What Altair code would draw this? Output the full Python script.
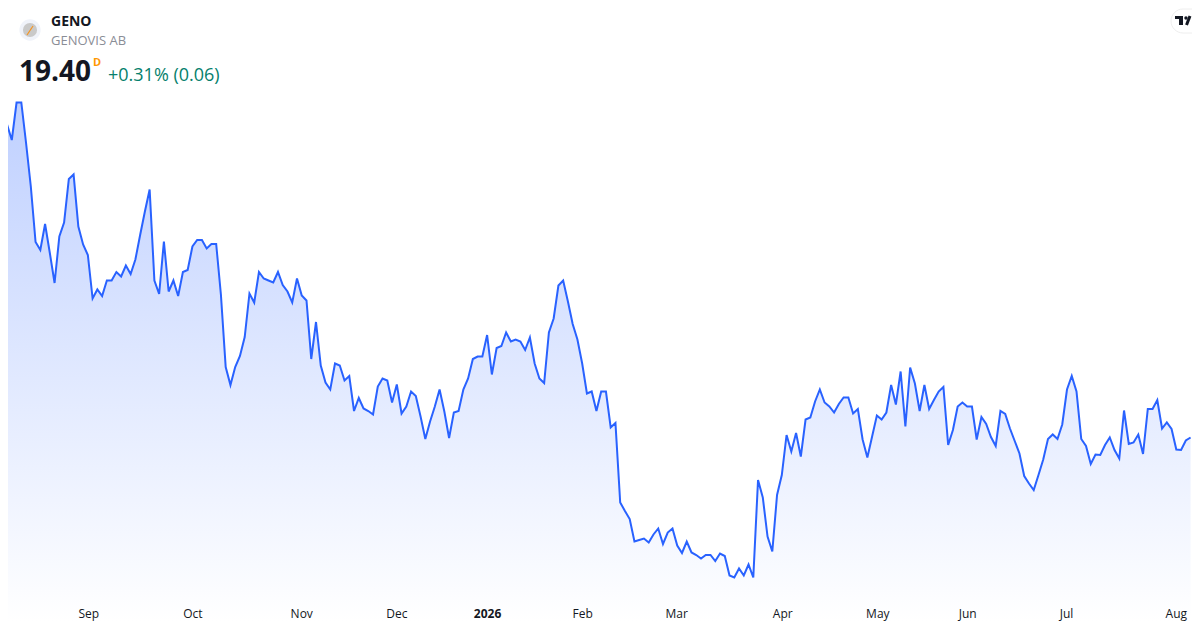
import altair as alt
import pandas as pd

prices = [
25.15,25.66,25.35,26.10,26.10,25.29,24.42,23.31,23.15,23.67,23.09,22.49,23.42,23.70,24.57,24.66,23.62,23.26,23.05,22.18,
22.36,22.23,22.54,22.54,22.71,22.62,22.84,22.67,22.96,23.45,23.92,24.36,22.54,22.27,23.32,22.32,22.54,22.23,22.71,22.75,
23.22,23.35,23.35,23.18,23.27,23.27,22.25,20.81,20.45,20.81,21.03,21.41,22.28,22.10,22.71,22.58,22.54,22.50,22.71,22.45,
22.32,22.10,22.58,22.24,22.14,20.97,21.71,20.84,20.50,20.36,20.88,20.84,20.54,20.63,19.93,20.19,19.98,19.93,19.86,20.42,
20.58,20.54,20.10,20.46,19.88,20.02,20.32,20.23,19.82,19.37,19.72,20.02,20.36,19.92,19.39,19.90,19.93,20.36,20.58,20.97,
21.02,21.02,21.45,20.66,21.19,21.23,21.50,21.32,21.36,21.32,21.15,21.40,20.88,20.58,20.49,21.50,21.78,22.44,22.54,22.12,
21.67,21.36,20.88,20.28,20.32,19.93,20.32,20.32,19.60,19.69,18.10,17.93,17.77,17.32,17.35,17.38,17.30,17.46,17.58,17.27,
17.50,17.58,17.24,17.09,17.32,17.10,17.05,16.98,17.05,17.05,16.93,17.08,17.03,16.64,16.60,16.78,16.64,16.86,16.60,18.55,
18.20,17.42,17.12,18.25,18.65,19.45,19.12,19.49,19.02,19.76,19.80,20.12,20.36,20.10,20.02,19.90,20.07,20.20,20.20,19.88,
19.97,19.36,19.00,19.42,19.84,19.76,19.90,20.45,20.06,20.72,19.62,20.80,20.48,19.93,20.45,19.97,20.15,20.32,20.41,19.25,
19.55,20.02,20.10,20.02,20.02,19.36,19.81,19.67,19.41,19.23,19.93,19.87,19.58,19.33,19.08,18.63,18.48,18.35,18.65,18.96,
19.37,19.46,19.37,19.66,20.36,20.63,20.32,19.37,19.23,18.87,19.06,19.05,19.25,19.40,19.15,18.98,19.94,19.27,19.30,19.46,
19.07,19.97,19.97,20.15,19.58,19.70,19.57,19.16,19.15,19.34,19.40,
]
month_labels = ["Sep","Oct","Nov","Dec","Feb","Mar","Apr","May","Jun","Jul","Aug"]
month_sessions = [18.2,40.1,63,83,122.1,141.9,164.2,184.2,203.1,223.9,247]
year_labels = ["2026"]
year_sessions = [102.1]

W, H = 1184, 614
X_DOMAIN = [1.2, 250.3]
Y_DOMAIN = [15.71, 27.99]
BASE = Y_DOMAIN[0]

df = pd.DataFrame({"session": range(len(prices)), "price": prices, "base": BASE})
xs = alt.Scale(domain=X_DOMAIN, range=[0, W], nice=False, zero=False)
ys = alt.Scale(domain=Y_DOMAIN, range=[H, 0], nice=False, zero=False)
X = alt.X("session:Q", scale=xs, axis=None)
Y = alt.Y("price:Q", scale=ys, axis=None)

area = alt.Chart(df).mark_area(
    clip=True,
    color=alt.Gradient(gradient="linear", x1=0, y1=0, x2=0, y2=1,
                       stops=[alt.GradientStop(offset=0, color="#bfd0ff"),
                              alt.GradientStop(offset=1, color="#ffffff")]),
).encode(x=X, y=Y, y2="base:Q")
line = alt.Chart(df).mark_line(clip=True, color="#2962ff", strokeWidth=2, strokeJoin="miter").encode(x=X, y=Y)

one = alt.Data(values=[{"a": 1}])
FONT = "Open Sans"

def px(v):
    return alt.value(v - 8)

def text(t, x, y, size, color, weight="normal", align="left"):
    return alt.Chart(one).mark_text(text=t, font=FONT, fontSize=size, color=color, fontWeight=weight,
                                    align=align, baseline="alphabetic").encode(x=px(x), y=px(y))

def months(labels, sessions, weight):
    d = pd.DataFrame({"session": sessions, "label": labels})
    return alt.Chart(d).mark_text(font=FONT, fontSize=12, color="#131722", fontWeight=weight,
                                  baseline="alphabetic").encode(
        x=alt.X("session:Q", scale=xs, axis=None), y=px(618), text="label:N")

def box(x, x2, y, y2, color, radius=0, stroke=None):
    kw = {"cornerRadius": radius} if radius else {}
    if stroke:
        kw["stroke"] = stroke
    return alt.Chart(one).mark_rect(color=color, **kw).encode(x=px(x), x2=px(x2), y=px(y), y2=px(y2))

def seg(x, x2, y, y2, color, w):
    return alt.Chart(one).mark_rule(color=color, strokeWidth=w).encode(x=px(x), x2=px(x2), y=px(y), y2=px(y2))

def dot(x, y, size, color):
    return alt.Chart(one).mark_point(filled=True, opacity=1, color=color, size=size).encode(x=px(x), y=px(y))

chart = alt.layer(
    area, line,
    months(month_labels, month_sessions, "normal"),
    months(year_labels, year_sessions, "bold"),
    # logo
    dot(30, 30, 452, "#f0f3fa"),
    dot(30, 30, 200, "#c9c9c9"),
    seg(27, 33, 35, 26, "#f7931e", 1.2),
    # header
    text("GENO", 51, 26, 14, "#131722", "bold"),
    text("GENOVIS AB", 51, 45, 13, "#8a8d96"),
    text("19.40", 19, 81, 28, "#131722", "bold"),
    text("D", 93, 66, 11, "#ff9800", "bold"),
    text("+0.31% (0.06)", 108, 81, 18, "#067f6c"),
    # watermark badge
    box(1171, 1206, 9, 33, "#ffffff", radius=12, stroke="#eeeeee"),
    box(1175, 1183, 16, 19, "#131722"),
    box(1179, 1183, 19, 25, "#131722"),
    dot(1186, 18, 12, "#131722"),
    seg(1190, 1186.5, 16, 25, "#131722", 3),
).properties(width=W, height=H, padding=0, autosize=alt.AutoSizeParams(type="none"), background="#ffffff"
).configure_view(stroke=None)

chart.save("out.html", embed_options={"renderer": "svg", "actions": False})
